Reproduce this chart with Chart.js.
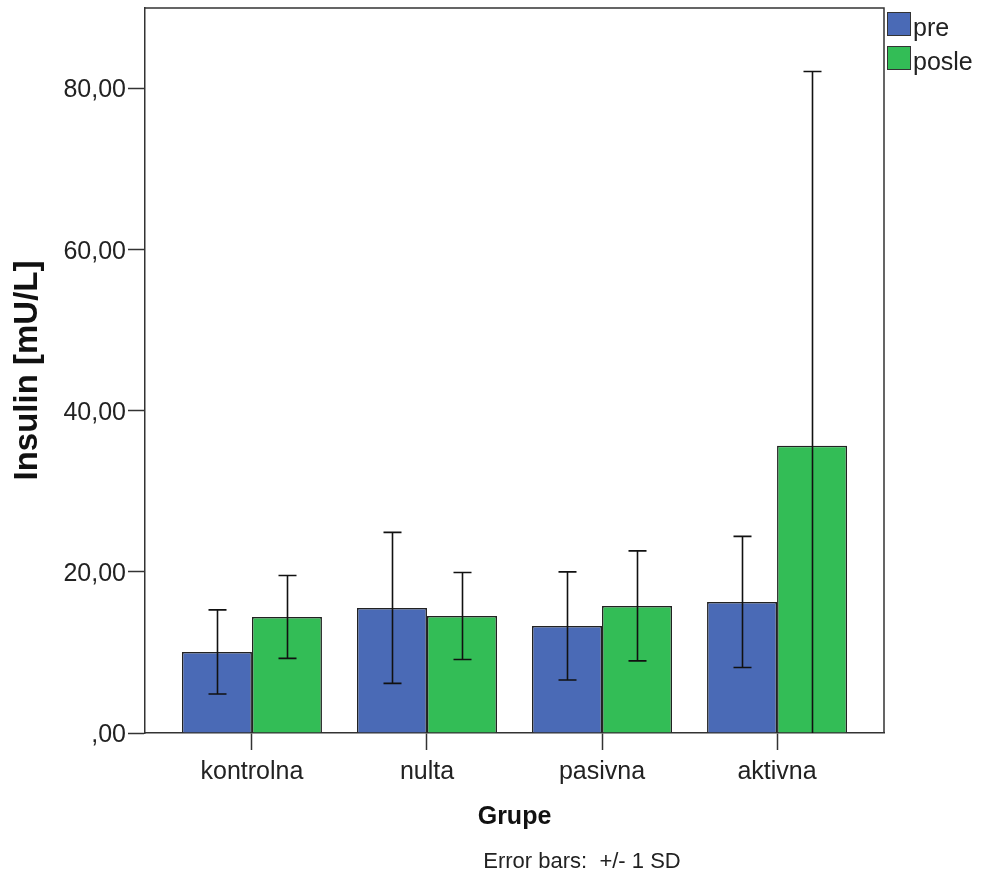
<!DOCTYPE html>
<html>
<head>
<meta charset="utf-8">
<script src="https://cdn.jsdelivr.net/npm/chart.js@4/dist/chart.umd.min.js"></script>
<style>
  body { margin: 0; background: #fff; }
  canvas { display: block; }
</style>
</head>
<body>
<canvas id="insulinChart" width="982" height="884"></canvas>
<script>
// podaci
const groups = ["kontrolna", "nulta", "pasivna", "aktivna"];
const seriesNames = ["pre", "posle"];
const preMeans = [10.06, 15.53, 13.29, 16.27];
const preSD = [5.22, 9.37, 6.71, 8.14];
const posleMeans = [14.41, 14.53, 15.78, 35.65];
const posleSD = [5.15, 5.4, 6.83, 46.46];
const yTicks = [0, 20, 40, 60, 80];

const blue = "#4a6ab6";
const green = "#33bd56";
const font = "'Liberation Sans', Arial, sans-serif";

function toPoints(values) {
  return values.map((v, i) => ({ x: i, y: v }));
}

function fmt(v) {
  if (v === 0) return ",00";
  return v.toFixed(2).replace(".", ",");
}

// bela pozadina + okvir
const framePlugin = {
  id: "frame",
  beforeDraw(chart) {
    let ctx = chart.ctx;
    ctx.save();
    ctx.fillStyle = "#fff";
    ctx.fillRect(0, 0, chart.width, chart.height);
    ctx.restore();
  },
  afterDraw(chart) {
    let a = chart.chartArea;
    let ctx = chart.ctx;
    ctx.save();
    ctx.strokeStyle = "#333";
    ctx.lineWidth = 1.5;
    ctx.beginPath();
    ctx.moveTo(a.left, a.top);
    ctx.lineTo(a.right, a.top);
    ctx.lineTo(a.right, a.bottom);
    ctx.stroke();

    // legenda
    let colors = [blue, green];
    ctx.font = "25px " + font;
    ctx.textBaseline = "alphabetic";
    ctx.textAlign = "left";
    seriesNames.forEach((name, i) => {
      let y = 12 + i * 34;
      ctx.fillStyle = colors[i];
      ctx.fillRect(887, y, 24, 24);
      ctx.strokeStyle = "#333";
      ctx.lineWidth = 1;
      ctx.strokeRect(887.5, y + 0.5, 23, 23);
      ctx.fillStyle = "#222";
      ctx.fillText(name, 913, y + 24);
    });

    // napomena
    ctx.font = "22px " + font;
    ctx.textAlign = "center";
    ctx.textBaseline = "middle";
    ctx.fillStyle = "#222";
    ctx.fillText("Error bars:  +/- 1 SD", 582, 862);
    ctx.restore();
  },
};

// error barovi (+/- 1 SD)
const errorBarPlugin = {
  id: "errorBars",
  afterDatasetsDraw(chart) {
    let ctx = chart.ctx;
    let a = chart.chartArea;
    let yScale = chart.scales.y;
    let sds = [preSD, posleSD];
    ctx.save();
    ctx.beginPath();
    ctx.rect(a.left, a.top, a.right - a.left, a.bottom - a.top);
    ctx.clip();
    ctx.strokeStyle = "#111";
    ctx.lineWidth = 1.6;
    chart.data.datasets.forEach((ds, di) => {
      let meta = chart.getDatasetMeta(di);
      meta.data.forEach((bar, j) => {
        let mean = ds.data[j].y;
        let sd = sds[di][j];
        let yTop = yScale.getPixelForValue(mean + sd);
        let yBot = yScale.getPixelForValue(mean - sd);
        let x = Math.round(bar.x) + 0.5;
        ctx.beginPath();
        ctx.moveTo(x, yTop);
        ctx.lineTo(x, yBot);
        ctx.moveTo(x - 9, yTop);
        ctx.lineTo(x + 9, yTop);
        ctx.moveTo(x - 9, yBot);
        ctx.lineTo(x + 9, yBot);
        ctx.stroke();
      });
    });
    ctx.restore();
  },
};

new Chart(document.getElementById("insulinChart"), {
  type: "bar",
  data: {
    datasets: [
      {
        label: seriesNames[0],
        data: toPoints(preMeans),
        backgroundColor: blue,
        borderColor: "#222",
        borderWidth: 1.5,
      },
      {
        label: seriesNames[1],
        data: toPoints(posleMeans),
        backgroundColor: green,
        borderColor: "#222",
        borderWidth: 1.5,
      },
    ],
  },
  options: {
    responsive: false,
    devicePixelRatio: 1,
    animation: false,
    layout: { padding: { top: 8, right: 98, left: 0, bottom: 0 } },
    datasets: { bar: { categoryPercentage: 0.8, barPercentage: 1.0 } },
    plugins: {
      legend: { display: false },
      tooltip: { enabled: false },
    },
    scales: {
      x: {
        type: "linear",
        offset: false,
        min: -0.611,
        max: 3.611,
        afterBuildTicks(scale) {
          scale.ticks = groups.map((g, i) => ({ value: i }));
        },
        afterFit(scale) {
          scale.height = 151;
          scale.paddingLeft = 0;
          scale.paddingRight = 0;
        },
        grid: {
          offset: false,
          drawOnChartArea: false,
          drawTicks: true,
          tickLength: 17,
          tickColor: "#333",
          tickWidth: 1.5,
        },
        border: { display: true, color: "#333", width: 1.5 },
        ticks: {
          autoSkip: false,
          maxRotation: 0,
          padding: 7,
          color: "#222",
          font: { family: font, size: 25 },
          callback: (value) => groups[Math.round(value)],
        },
        title: {
          display: true,
          text: "Grupe",
          color: "#111",
          font: { family: font, size: 25, weight: "bold" },
          padding: { top: 0, bottom: 52 },
        },
      },
      y: {
        min: 0,
        max: 90,
        afterBuildTicks(scale) {
          scale.ticks = yTicks.map((v) => ({ value: v }));
        },
        afterFit(scale) {
          scale.width = 145;
          scale.paddingTop = 0;
          scale.paddingBottom = 0;
        },
        grid: {
          drawOnChartArea: false,
          drawTicks: true,
          tickLength: 17,
          tickColor: "#333",
          tickWidth: 1.5,
        },
        border: { display: true, color: "#333", width: 1.5 },
        ticks: {
          padding: 2,
          labelOffset: 2,
          color: "#222",
          font: { family: font, size: 25 },
          callback: (value) => fmt(value),
        },
        title: {
          display: true,
          text: "Insulin [mU/L]",
          color: "#111",
          font: { family: font, size: 33, weight: "bold" },
          padding: { top: 8, bottom: 0 },
        },
      },
    },
  },
  plugins: [framePlugin, errorBarPlugin],
});
</script>
</body>
</html>
